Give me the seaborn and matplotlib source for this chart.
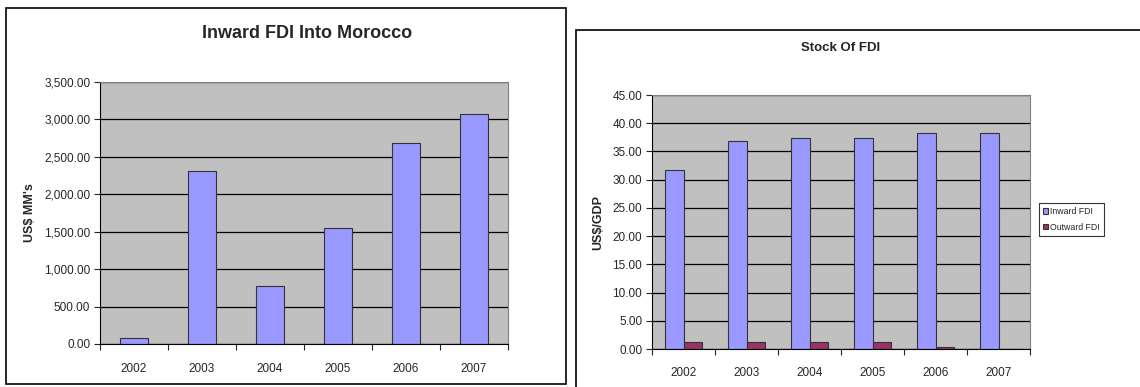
import matplotlib
matplotlib.use("Agg")
import matplotlib.pyplot as plt
import matplotlib.ticker as mticker
import numpy as np
import pandas as pd
import seaborn as sns
from matplotlib.patches import Rectangle

# Datos
anios = ["2002", "2003", "2004", "2005", "2006", "2007"]
ied_entrante = [80, 2310, 780, 1550, 2690, 3070]
stock_entrante = [31.7, 36.8, 37.3, 37.3, 38.2, 38.2]
stock_saliente = [1.2, 1.2, 1.3, 1.2, 0.4, 0.0]
series_stock = ["Inward FDI", "Outward FDI"]

sns.set_theme(style="white")
plt.rcParams["font.family"] = ["Liberation Sans", "DejaVu Sans"]

fig = plt.figure(figsize=(11.4, 3.87), dpi=100)
W, H = 1140, 387


def caja(x0, y0, x1, y1):
    # marco alrededor de cada grafico (en pixeles)
    fig.patches.append(Rectangle((x0 / W, 1 - y1 / H), (x1 - x0) / W, (y1 - y0) / H,
                                 transform=fig.transFigure, fill=False,
                                 edgecolor="black", linewidth=1.2))


def ejes(x0, y0, x1, y1):
    return fig.add_axes([x0 / W, 1 - y1 / H, (x1 - x0) / W, (y1 - y0) / H])


def estilo(ax, ymax, paso, ylabel, tam, pad_x):
    ax.set_facecolor("#C0C0C0")
    ax.set_ylim(0, ymax)
    ax.set_xlim(-0.5, 5.5)
    ax.yaxis.set_major_locator(mticker.MultipleLocator(paso))
    ax.yaxis.set_major_formatter(mticker.StrMethodFormatter("{x:,.2f}"))
    ax.grid(axis="y", color="black", linewidth=0.9)
    ax.set_axisbelow(True)
    for lado in ["top", "right"]:
        ax.spines[lado].set_color("#808080")
        ax.spines[lado].set_linewidth(0.8)
    for lado in ["left", "bottom"]:
        ax.spines[lado].set_color("black")
        ax.spines[lado].set_linewidth(0.8)
    ax.tick_params(axis="y", left=True, length=4, width=0.8, labelsize=tam, pad=3)
    ax.tick_params(axis="x", which="major", bottom=False, labelsize=tam, pad=pad_x)
    ax.set_xticks(np.arange(-0.5, 6.0, 1.0), minor=True)
    ax.tick_params(axis="x", which="minor", bottom=True, length=4, width=0.8)
    ax.set_xlabel("")
    ax.set_ylabel(ylabel, fontsize=9, fontweight="bold", labelpad=6)


# Grafico izquierdo
caja(6, 8, 566, 384)
ax1 = ejes(100, 82, 508, 344)
df1 = pd.DataFrame({"anio": anios, "valor": ied_entrante})
sns.barplot(data=df1, x="anio", y="valor", color="#9999FF", saturation=1,
            width=0.4, edgecolor="#333333", linewidth=0.8, ax=ax1)
estilo(ax1, 3500, 500, "US$ MM's", 8.5, 8)
fig.text(307 / W, 1 - 34 / H, "Inward FDI Into Morocco", ha="center", va="center",
         fontsize=13, fontweight="bold")

# Grafico derecho
caja(576, 30, 1150, 395)
ax2 = ejes(652, 95, 1030, 349)
df2 = pd.DataFrame({
    "anio": anios * 2,
    "serie": [series_stock[0]] * 6 + [series_stock[1]] * 6,
    "valor": stock_entrante + stock_saliente,
})
sns.barplot(data=df2, x="anio", y="valor", hue="serie",
            palette=["#9999FF", "#993366"], saturation=1, width=0.58,
            edgecolor="#333333", linewidth=0.8, ax=ax2)
estilo(ax2, 45, 5, "US$/GDP", 8.5, 7)
fig.text(841 / W, 1 - 48 / H, "Stock Of FDI", ha="center", va="center",
         fontsize=9.5, fontweight="bold")
leg = ax2.legend(loc="center left", bbox_to_anchor=(1.024, 0.51), fontsize=6.3,
                 frameon=True, fancybox=False, edgecolor="black",
                 handlelength=0.6, handleheight=0.6, handletextpad=0.2,
                 borderpad=0.45, labelspacing=0.75, borderaxespad=0)
leg.get_frame().set_linewidth(0.8)

fig.savefig("out.png", dpi=100)
